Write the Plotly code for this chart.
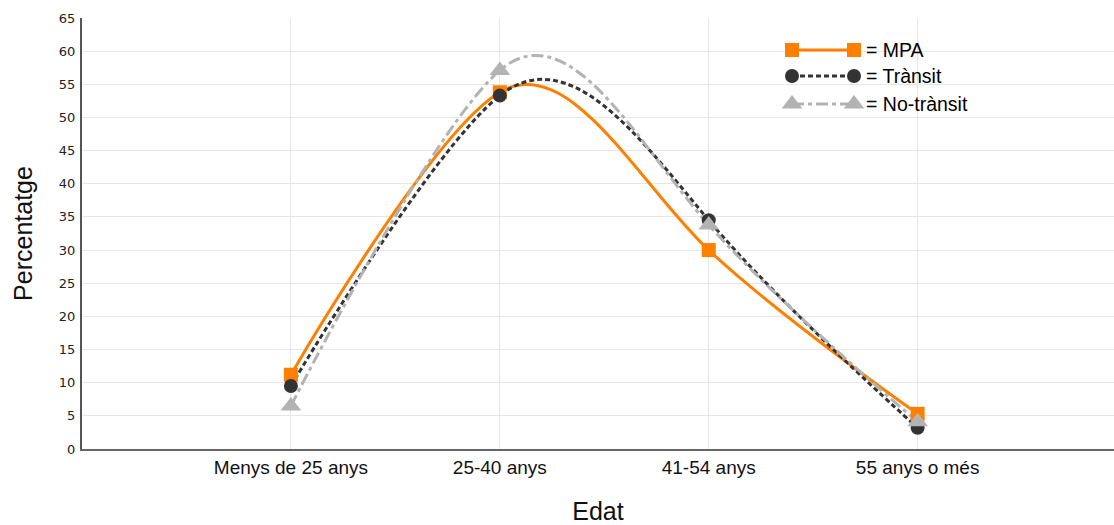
import plotly.graph_objects as go

# Age groups and share (%) of each group
categories = ["Menys de 25 anys", "25-40 anys", "41-54 anys", "55 anys o més"]
mpa = [11.2, 53.8, 30.0, 5.3]
transit = [9.5, 53.3, 34.5, 3.2]
no_transit = [6.5, 57.1, 33.8, 4.1]
y_ticks = list(range(0, 70, 5))

series_names = ["MPA", "Trànsit", "No-trànsit"]
colors = ["#ff8000", "#333333", "#b3b3b3"]
symbols = ["square", "circle", "triangle-up"]
marker_sizes = [14, 14, 18]
dashes = ["solid", "5px,3px", "12px,4px,4px,4px"]

x_pos = list(range(len(categories)))


def smooth_path(xs, ys, limit=1.2):
    """Cubic Bezier path through the points (smoothed line rendering)."""
    n = len(xs)
    chords = [(ys[i + 1] - ys[i]) / (xs[i + 1] - xs[i]) for i in range(n - 1)]
    tangents = [None] * n
    for i in range(1, n - 1):
        s = chords[i - 1] + chords[i]
        lim = limit * max(abs(chords[i - 1]), abs(chords[i]))
        tangents[i] = max(-lim, min(lim, s))
    parts = [f"M {xs[0]},{ys[0]}"]
    for i in range(n - 1):
        dx = xs[i + 1] - xs[i]
        if tangents[i] is None:
            c1x, c1y = xs[i], ys[i]
        else:
            c1x, c1y = xs[i] + dx / 3, ys[i] + tangents[i] * dx / 3
        if tangents[i + 1] is None:
            c2x, c2y = xs[i + 1], ys[i + 1]
        else:
            c2x, c2y = xs[i + 1] - dx / 3, ys[i + 1] - tangents[i + 1] * dx / 3
        parts.append(f"C {c1x},{c1y} {c2x},{c2y} {xs[i + 1]},{ys[i + 1]}")
    return " ".join(parts)


fig = go.Figure()

for name, vals, col, sym, ms, dash in zip(series_names, [mpa, transit, no_transit],
                                          colors, symbols, marker_sizes, dashes):
    fig.add_shape(
        type="path", path=smooth_path(x_pos, vals), xref="x", yref="y",
        line=dict(color=col, width=3, dash=dash), layer="between",
    )
    fig.add_trace(go.Scatter(
        x=x_pos, y=vals, name=name, mode="markers",
        marker=dict(symbol=sym, size=ms, color=col, line=dict(width=0)),
        showlegend=False, cliponaxis=False,
        hovertext=categories, hoverinfo="text+y",
    ))

# Legend drawn on a pixel-scaled overlay axis: marker at both ends of each line
PLOT_W, PLOT_H = 1032, 431
leg_x = [710, 772]
leg_y = [32, 58, 86]
for name, col, sym, ms, dash, ly in zip(series_names, colors, symbols, marker_sizes, dashes, leg_y):
    fig.add_trace(go.Scatter(
        x=leg_x, y=[ly, ly], xaxis="x2", yaxis="y2", mode="lines+markers",
        line=dict(color=col, width=3, dash=dash),
        marker=dict(symbol=sym, size=ms, color=col, line=dict(width=0)),
        showlegend=False, hoverinfo="skip", cliponaxis=False,
    ))
    fig.add_annotation(
        x=leg_x[1] + 10, y=ly, xref="x2", yref="y2", text="= " + name,
        showarrow=False, xanchor="left", yanchor="middle",
        font=dict(family="Liberation Sans, Arial", size=19.5, color="#000000"),
    )

fig.update_layout(
    width=1114, height=525,
    margin=dict(l=82, r=0, t=18, b=76),
    paper_bgcolor="white", plot_bgcolor="white",
    xaxis=dict(
        range=[-1, 3.94], tickvals=x_pos, ticktext=categories,
        showgrid=True, gridcolor="#e6e6e6", gridwidth=1,
        showline=True, linecolor="#666666", linewidth=2,
        ticks="", ticklabelstandoff=0,
        tickfont=dict(family="Liberation Sans, Arial", size=19, color="#111111"),
        title=dict(text="Edat", font=dict(family="Liberation Sans, Arial", size=25, color="#111111"),
                   standoff=28),
        zeroline=False,
    ),
    yaxis=dict(
        range=[0, 65], tickvals=y_ticks, showgrid=True, gridcolor="#e6e6e6", gridwidth=1,
        showline=True, linecolor="#555555", linewidth=2, ticks="",
        ticklabelstandoff=2,
        tickfont=dict(family="DejaVu Sans, Verdana", size=13, color="#222222"),
        title=dict(text="Percentatge", font=dict(family="Liberation Sans, Arial", size=25, color="#111111"),
                   standoff=19),
        zeroline=False,
    ),
    xaxis2=dict(overlaying="x", anchor="y2", range=[0, PLOT_W], visible=False, fixedrange=True),
    yaxis2=dict(overlaying="y", anchor="x2", range=[PLOT_H, 0], visible=False, fixedrange=True),
)

fig.write_html("out.html")
